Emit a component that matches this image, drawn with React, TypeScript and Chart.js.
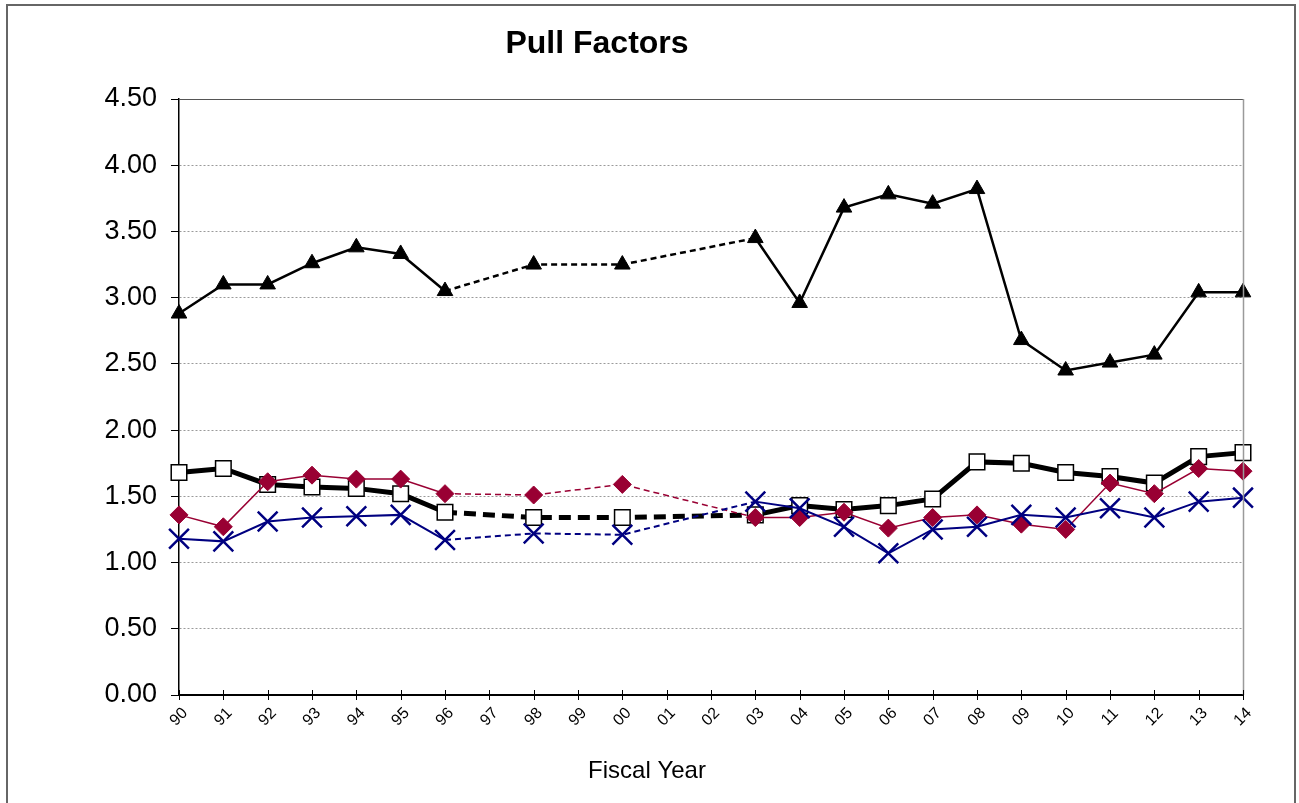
import React, { useEffect, useRef } from "react";
import { Chart, registerables } from "chart.js";

Chart.register(...registerables);

// Fiscal years on the x axis (two-digit labels)
const years = [
  "90", "91", "92", "93", "94", "95", "96", "97", "98", "99", "00", "01", "02",
  "03", "04", "05", "06", "07", "08", "09", "10", "11", "12", "13", "14",
];

// Pull factor series; null marks years with no figure (spanned with a dashed line)
const triangleSeries = [
  2.88, 3.1, 3.1, 3.26, 3.38, 3.33, 3.05, null, 3.25, null, 3.25, null, null,
  3.45, 2.96, 3.68, 3.78, 3.71, 3.82, 2.68, 2.45, 2.51, 2.57, 3.04, 3.04,
];
const squareSeries = [
  1.68, 1.71, 1.59, 1.57, 1.56, 1.52, 1.38, null, 1.34, null, 1.34, null, null,
  1.36, 1.43, 1.4, 1.43, 1.48, 1.76, 1.75, 1.68, 1.65, 1.6, 1.8, 1.83,
];
const diamondSeries = [
  1.36, 1.27, 1.61, 1.66, 1.63, 1.63, 1.52, null, 1.51, null, 1.59, null, null,
  1.34, 1.34, 1.38, 1.26, 1.34, 1.36, 1.29, 1.25, 1.6, 1.52, 1.71, 1.69,
];
const crossSeries = [
  1.18, 1.16, 1.31, 1.34, 1.35, 1.36, 1.17, null, 1.22, null, 1.21, null, null,
  1.46, 1.41, 1.27, 1.07, 1.25, 1.27, 1.36, 1.34, 1.41, 1.34, 1.46, 1.49,
];

const yTicks = [0, 0.5, 1, 1.5, 2, 2.5, 3, 3.5, 4, 4.5];

const chartTitle = "Pull Factors";
const xTitle = "Fiscal Year";

const FONT = "'Liberation Sans', Arial, sans-serif";

// dashed where the line runs through a missing year
const gapDash = (dash: number[]) => (ctx: any) =>
  ctx.p0.skip || ctx.p1.skip ? dash : undefined;

const decorations = {
  id: "decorations",
  afterDraw(chart: any) {
    const { ctx, chartArea, scales } = chart;
    const xs = scales.x;
    ctx.save();
    // plot frame: top and right edges
    ctx.lineWidth = 1;
    ctx.strokeStyle = "#555555";
    ctx.beginPath();
    ctx.moveTo(chartArea.left, chartArea.top + 0.5);
    ctx.lineTo(chartArea.right, chartArea.top + 0.5);
    ctx.stroke();
    ctx.strokeStyle = "#9a9a9a";
    ctx.lineWidth = 1.5;
    ctx.beginPath();
    ctx.moveTo(chartArea.right + 0.5, chartArea.top);
    ctx.lineTo(chartArea.right + 0.5, chartArea.bottom);
    ctx.stroke();

    // x tick marks crossing the axis
    ctx.strokeStyle = "#000000";
    ctx.lineWidth = 1;
    years.forEach((_, i) => {
      const x = Math.round(xs.getPixelForTick(i)) + 0.5;
      ctx.beginPath();
      ctx.moveTo(x, chartArea.bottom - 5);
      ctx.lineTo(x, chartArea.bottom + 5);
      ctx.stroke();
    });

    // rotated year labels, centred under each tick
    ctx.fillStyle = "#000000";
    ctx.font = `16px ${FONT}`;
    ctx.textAlign = "center";
    ctx.textBaseline = "middle";
    years.forEach((label, i) => {
      const x = xs.getPixelForTick(i);
      ctx.save();
      ctx.translate(x, chartArea.bottom + 22);
      ctx.rotate(-Math.PI / 4);
      ctx.fillText(label, 0, 0);
      ctx.restore();
    });

    // axis title and chart title
    ctx.font = `24px ${FONT}`;
    ctx.fillText(xTitle, 647, 771);
    ctx.font = `bold 32px ${FONT}`;
    ctx.fillText(chartTitle, 597, 44);
    ctx.restore();
  },
};

export default function App() {
  const canvasRef = useRef<HTMLCanvasElement | null>(null);

  useEffect(() => {
    if (!canvasRef.current) return;
    const chart = new Chart(canvasRef.current, {
      type: "line",
      data: {
        labels: years,
        datasets: [
          {
            label: "Triangle",
            data: triangleSeries,
            borderColor: "#000000",
            backgroundColor: "#000000",
            borderWidth: 2.5,
            pointStyle: "triangle",
            pointRadius: 9,
            pointBorderWidth: 1,
            pointBorderColor: "#000000",
            pointBackgroundColor: "#000000",
            spanGaps: true,
            tension: 0,
            segment: { borderDash: gapDash([6, 4]) },
          },
          {
            label: "Cross",
            data: crossSeries,
            borderColor: "#000080",
            backgroundColor: "#000080",
            borderWidth: 2,
            pointStyle: "crossRot",
            pointRadius: 14,
            pointBorderWidth: 2.5,
            pointBorderColor: "#000080",
            spanGaps: true,
            tension: 0,
            segment: { borderDash: gapDash([6, 4]) },
          },
          {
            label: "Diamond",
            data: diamondSeries,
            borderColor: "#990033",
            backgroundColor: "#990033",
            borderWidth: 1.5,
            pointStyle: "rectRot",
            pointRadius: 9,
            pointBorderWidth: 1,
            pointBorderColor: "#990033",
            pointBackgroundColor: "#990033",
            spanGaps: true,
            tension: 0,
            segment: { borderDash: gapDash([6, 4]) },
          },
          {
            label: "Square",
            data: squareSeries,
            borderColor: "#000000",
            backgroundColor: "#ffffff",
            borderWidth: 5,
            pointStyle: "rect",
            pointRadius: 11,
            pointBorderWidth: 1.5,
            pointBorderColor: "#000000",
            pointBackgroundColor: "#ffffff",
            spanGaps: true,
            tension: 0,
            segment: { borderDash: gapDash([12, 7]) },
          },
        ],
      },
      options: {
        animation: false,
        responsive: false,
        maintainAspectRatio: false,
        layout: { padding: { left: 0, top: 99, right: 56, bottom: 0 } },
        plugins: {
          legend: { display: false },
          title: { display: false },
          tooltip: { enabled: false },
        },
        scales: {
          x: {
            type: "category",
            offset: false,
            grid: { display: false },
            border: { display: true, color: "#000000", width: 2 },
            ticks: { display: false },
            afterFit: (scale: any) => {
              scale.height = 108;
            },
          },
          y: {
            min: 0,
            max: 4.5,
            afterBuildTicks: (scale: any) => {
              scale.ticks = yTicks.map((v) => ({ value: v }));
            },
            grid: {
              color: "#9a9a9a",
              lineWidth: 1,
              drawTicks: true,
              tickLength: 8,
              tickColor: "#000000",
              tickBorderDash: [],
            },
            border: { display: true, color: "#000000", width: 1.5, dash: [2, 2] },
            ticks: {
              padding: 14,
              color: "#000000",
              font: { family: FONT, size: 27 },
              callback: (v: any) => Number(v).toFixed(2),
            },
            afterFit: (scale: any) => {
              scale.width = 179;
            },
          },
        },
      },
      plugins: [decorations],
    });
    return () => chart.destroy();
  }, []);

  return (
    <div style={{ position: "fixed", left: 0, top: 0, width: 1299, height: 803, background: "#ffffff" }}>
      <div
        style={{
          position: "absolute",
          left: 6,
          top: 4,
          width: 1290,
          height: 830,
          border: "2px solid #666666",
          boxSizing: "border-box",
        }}
      />
      <canvas
        ref={canvasRef}
        width={1299}
        height={803}
        style={{ position: "absolute", left: 0, top: 0, width: 1299, height: 803 }}
      />
    </div>
  );
}
